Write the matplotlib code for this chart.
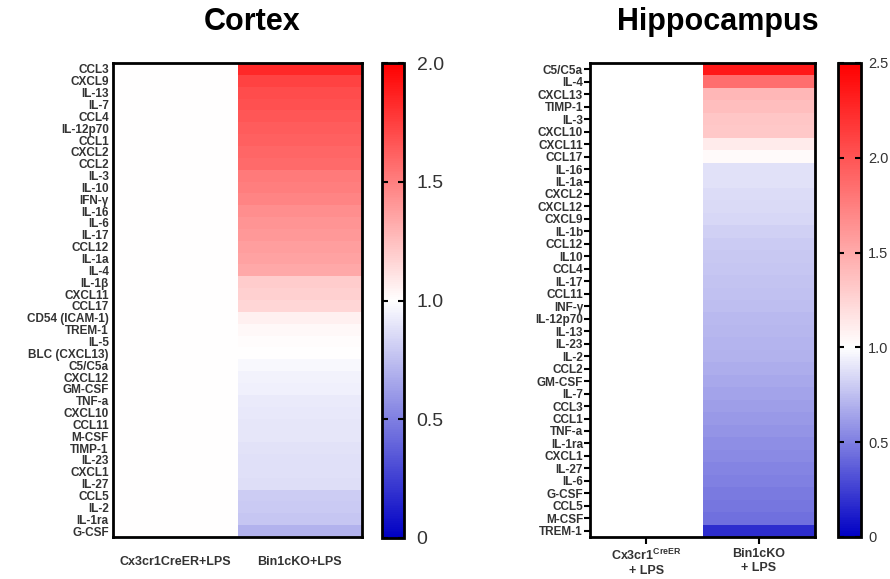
import numpy as np
import matplotlib
matplotlib.use("Agg")
import matplotlib.pyplot as plt
from matplotlib.colors import LinearSegmentedColormap, Normalize

plt.rcParams['font.family'] = ['Liberation Sans', 'DejaVu Sans']

# ---------------- data ----------------
cortex_labels = ["CCL3", "CXCL9", "IL-13", "IL-7", "CCL4", "IL-12p70", "CCL1", "CXCL2",
                 "CCL2", "IL-3", "IL-10", "IFN-γ", "IL-16", "IL-6", "IL-17", "CCL12",
                 "IL-1a", "IL-4", "IL-1β", "CXCL11", "CCL17", "CD54 (ICAM-1)", "TREM-1",
                 "IL-5", "BLC (CXCL13)", "C5/C5a", "CXCL12", "GM-CSF", "TNF-a", "CXCL10",
                 "CCL11", "M-CSF", "TIMP-1", "IL-23", "CXCL1", "IL-27", "CCL5", "IL-2",
                 "IL-1ra", "G-CSF"]
cortex_ko = [1.84, 1.74, 1.70, 1.68, 1.66, 1.64, 1.62, 1.60, 1.58, 1.52, 1.50, 1.48,
             1.44, 1.42, 1.40, 1.38, 1.36, 1.34, 1.20, 1.18, 1.16, 1.06, 1.03, 1.01,
             1.00, 0.97, 0.95, 0.94, 0.92, 0.91, 0.90, 0.90, 0.89, 0.88, 0.88, 0.87,
             0.80, 0.79, 0.78, 0.70]
cortex_ctrl = [1.0] * len(cortex_labels)
cortex_groups = ["Cx3cr1CreER+LPS", "Bin1cKO+LPS"]

hippo_labels = ["C5/C5a", "IL-4", "CXCL13", "TIMP-1", "IL-3", "CXCL10", "CXCL11", "CCL17",
                "IL-16", "IL-1a", "CXCL2", "CXCL12", "CXCL9", "IL-1b", "CCL12", "IL10",
                "CCL4", "IL-17", "CCL11", "INF-γ", "IL-12p70", "IL-13", "IL-23", "IL-2",
                "CCL2", "GM-CSF", "IL-7", "CCL3", "CCL1", "TNF-a", "IL-1ra", "CXCL1",
                "IL-27", "IL-6", "G-CSF", "CCL5", "M-CSF", "TREM-1"]
hippo_ko = [2.35, 1.85, 1.42, 1.38, 1.33, 1.32, 1.12, 1.03, 0.88, 0.88, 0.86, 0.85,
            0.84, 0.82, 0.80, 0.79, 0.78, 0.77, 0.76, 0.75, 0.73, 0.72, 0.71, 0.70,
            0.68, 0.66, 0.64, 0.62, 0.60, 0.58, 0.56, 0.54, 0.52, 0.50, 0.48, 0.46,
            0.44, 0.18]
hippo_ctrl = [1.0] * len(hippo_labels)
hippo_groups = ["Cx3cr1$^{\\mathregular{CreER}}$\n+ LPS", "Bin1cKO\n+ LPS"]

# ---------------- figure ----------------
W, H = 890, 579
fig = plt.figure(figsize=(W / 100, H / 100), dpi=100)

def rect(x0, y0, x1, y1):
    return [x0 / W, 1 - y1 / H, (x1 - x0) / W, (y1 - y0) / H]

blue = '#0000c4'
red = '#ff0000'
cmap_l = LinearSegmentedColormap.from_list('bwr_l', [(0, blue), (0.5, 'white'), (1, red)])
cmap_r = LinearSegmentedColormap.from_list('bwr_r', [(0, blue), (0.4, 'white'), (1, red)])

text_col = '#333333'

def heat(ax, labels, ctrl, ko, cmap, vmax, groups, yticks_marks, xfs, xpad):
    data = np.column_stack([ctrl, ko])
    n = len(labels)
    m = ax.pcolormesh(np.arange(3), np.arange(n + 1), data, cmap=cmap,
                      norm=Normalize(0, vmax), shading='flat')
    ax.set_xlim(0, 2)
    ax.set_ylim(n, 0)
    ax.set_yticks(np.arange(n) + 0.5)
    ax.set_yticklabels(labels, fontsize=8.5, fontweight='bold', color=text_col)
    ax.set_xticks([0.5, 1.5])
    ax.set_xticklabels(groups, fontsize=xfs, fontweight='bold', color=text_col)
    if yticks_marks:
        ax.tick_params(axis='y', length=4, width=1.5, pad=1)
        ax.tick_params(axis='x', length=5, width=1.5, pad=xpad)
    else:
        ax.tick_params(axis='y', length=0, pad=3)
        ax.tick_params(axis='x', length=0, pad=xpad)
    for s in ax.spines.values():
        s.set_linewidth(2)
    return m

def cbar(cax, m, ticks, ticklabels, fs, pad):
    cb = fig.colorbar(m, cax=cax)
    cb.set_ticks(ticks)
    cb.set_ticklabels(ticklabels)
    cb.outline.set_linewidth(2)
    cax.tick_params(axis='y', direction='in', left=True, right=True, length=4,
                    width=1.5, labelsize=fs, labelcolor=text_col, pad=pad)
    return cb

# Cortex
ax1 = fig.add_axes(rect(113, 63, 362, 537))
m1 = heat(ax1, cortex_labels, cortex_ctrl, cortex_ko, cmap_l, 2.0, cortex_groups, False, 9, 14)
fig.text(252 / W, 1 - 22 / H, "Cortex", fontsize=22, fontweight='bold',
         ha='center', va='center')
cax1 = fig.add_axes(rect(382, 63, 404, 538))
cbar(cax1, m1, [0, 0.5, 1.0, 1.5, 2.0], ["0", "0.5", "1.0", "1.5", "2.0"], 14, 9)

# Hippocampus
ax2 = fig.add_axes(rect(590, 63, 815, 537))
m2 = heat(ax2, hippo_labels, hippo_ctrl, hippo_ko, cmap_r, 2.5, hippo_groups, True, 9, 3)
fig.text(718 / W, 1 - 22 / H, "Hippocampus", fontsize=22, fontweight='bold',
         ha='center', va='center')
cax2 = fig.add_axes(rect(838, 63, 861, 537))
cbar(cax2, m2, [0, 0.5, 1.0, 1.5, 2.0, 2.5], ["0", "0.5", "1.0", "1.5", "2.0", "2.5"], 10.5, 5)

fig.savefig("out.png", dpi=100)
